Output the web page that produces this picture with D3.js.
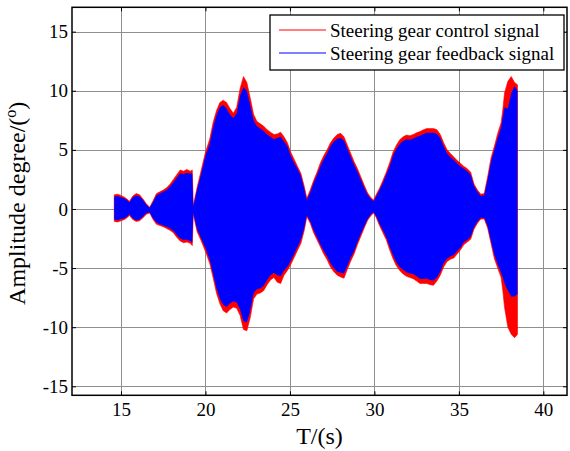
<!DOCTYPE html>
<html>
<head>
<meta charset="utf-8">
<script src="https://cdn.jsdelivr.net/npm/d3@7"></script>
<style>
  body { margin: 0; background: #fff; }
  svg { display: block; }
  text { font-family: "Liberation Serif", "Times New Roman", serif; fill: #000; }
</style>
</head>
<body>
<svg id="chart" width="570" height="451"></svg>
<script>
// Envelope of the two dense oscillating signals (degrees), sampled along time (s)
const time = [14.6, 14.8, 15.0, 15.2, 15.35, 15.5, 15.7, 15.9, 16.1, 16.3, 16.5, 16.7, 16.9, 17.1, 17.3, 17.5, 17.7, 17.9, 18.1, 18.3, 18.5, 18.7, 18.9, 19.1, 19.22,
  19.28, 19.5, 19.75, 20.0, 20.25, 20.45, 20.65, 20.85, 21.05, 21.25, 21.45, 21.65, 21.85, 22.05, 22.25, 22.45, 22.65, 22.85, 23.05, 23.25, 23.45, 23.65, 23.85, 24.05, 24.25, 24.45, 24.65, 24.85, 25.05, 25.25, 25.45, 25.65, 25.85,
  26.0, 26.2, 26.4, 26.6, 26.8, 27.0, 27.2, 27.4, 27.6, 27.8, 28.0, 28.2, 28.4, 28.6, 28.8, 29.0, 29.2, 29.4, 29.6, 29.8,
  29.95, 30.1, 30.3, 30.5, 30.7, 30.9, 31.1, 31.3, 31.5, 31.7, 31.9, 32.1, 32.3, 32.5, 32.7, 32.9, 33.1, 33.3, 33.5, 33.7, 33.9, 34.1, 34.3, 34.5, 34.7, 34.9, 35.1, 35.3, 35.5, 35.7, 35.9, 36.1, 36.3,
  36.5, 36.7, 36.9, 37.1, 37.3, 37.5, 37.6, 37.7, 37.9, 38.1, 38.3, 38.47];

const ctrlUpper = [1.2, 1.25, 1.15, 1.0, 0.85, 0.65, 1.1, 1.3, 1.2, 0.85, 0.45, 0.15, 0.7, 1.3, 1.45, 1.6, 1.8, 2.1, 2.5, 2.9, 3.3, 3.2, 3.35, 3.2, 3.3,
  0.3, 1.8, 3.3, 4.8, 5.9, 7.3, 8.3, 9.0, 9.2, 9.0, 8.5, 8.1, 8.6, 10.2, 11.2, 10.7, 9.4, 8.0, 7.4, 7.2, 7.0, 6.7, 6.5, 6.3, 6.35, 6.5, 6.1, 5.6, 4.8, 4.2, 3.6, 3.0, 1.9,
  0.9, 1.6, 2.4, 3.1, 3.9, 4.5, 5.0, 5.6, 6.0, 6.3, 6.4, 6.1, 5.4, 4.7, 4.0, 3.4, 2.7, 2.0, 1.35, 0.95,
  0.75, 1.2, 1.75, 2.4, 3.1, 3.9, 4.8, 5.4, 5.85, 6.1, 6.25, 6.2, 6.3, 6.45, 6.55, 6.7, 6.8, 6.8, 6.8, 6.7, 6.3, 5.6, 5.0, 4.7, 4.4, 4.1, 3.85, 3.6, 3.4, 3.1, 2.1, 1.6, 1.25,
  1.3, 2.7, 4.3, 5.3, 6.4, 7.3, 8.4, 9.8, 10.8, 11.2, 10.7, 10.5];

const ctrlLower = [-1.05, -1.1, -1.0, -0.9, -0.75, -0.55, -0.9, -1.05, -1.0, -0.75, -0.45, -0.35, -0.9, -1.3, -1.4, -1.5, -1.65, -1.8, -2.0, -2.4, -2.7, -2.85, -2.8, -2.9, -3.1,
  -0.45, -1.9, -2.7, -3.6, -4.6, -5.8, -7.1, -8.0, -8.6, -8.8, -8.5, -8.3, -8.4, -9.0, -10.2, -10.3, -9.2, -7.6, -7.2, -7.1, -6.9, -6.4, -6.0, -5.8, -6.2, -6.3, -5.6, -5.2, -4.7, -4.1, -3.5, -2.9, -1.8,
  -0.65, -1.2, -2.0, -2.6, -3.2, -3.8, -4.3, -4.9, -5.3, -5.6, -5.75, -5.85, -5.1, -4.4, -3.8, -3.0, -2.3, -1.6, -0.95, -0.55,
  -0.35, -0.7, -1.4, -2.0, -2.6, -3.45, -4.2, -4.8, -5.2, -5.5, -5.7, -5.8, -5.9, -6.1, -6.3, -6.3, -6.3, -6.4, -6.45, -6.1, -5.6, -4.9, -4.45, -4.25, -4.15, -3.8, -3.45, -3.0, -2.8, -2.55, -1.7, -1.2, -0.85,
  -0.85, -1.6, -2.9, -4.2, -5.0, -5.8, -6.9, -8.3, -10.0, -10.6, -10.9, -10.6];

const fbUpper = [1.05, 1.1, 1.0, 0.9, 0.75, 0.55, 1.0, 1.15, 1.05, 0.75, 0.35, 0.1, 0.6, 1.15, 1.3, 1.45, 1.6, 1.9, 2.25, 2.65, 3.0, 2.95, 3.05, 3.0, 3.0,
  0.2, 1.6, 3.0, 4.5, 5.5, 6.9, 7.9, 8.6, 8.8, 8.5, 8.0, 7.7, 8.1, 9.6, 10.3, 10.0, 8.8, 7.5, 7.0, 6.8, 6.6, 6.3, 6.1, 5.9, 6.0, 6.1, 5.7, 5.3, 4.5, 3.9, 3.4, 2.8, 1.7,
  0.75, 1.4, 2.2, 2.85, 3.6, 4.2, 4.7, 5.3, 5.7, 5.95, 6.0, 5.8, 5.1, 4.4, 3.75, 3.15, 2.5, 1.8, 1.2, 0.85,
  0.65, 1.05, 1.6, 2.2, 2.9, 3.6, 4.5, 5.1, 5.5, 5.75, 5.9, 5.85, 5.95, 6.1, 6.2, 6.35, 6.45, 6.45, 6.45, 6.35, 6.0, 5.3, 4.7, 4.4, 4.15, 3.85, 3.6, 3.4, 3.2, 2.9, 1.95, 1.45, 1.1,
  1.15, 2.5, 4.0, 5.0, 6.0, 6.9, 7.8, 8.6, 8.5, 9.8, 10.4, 10.0];

const fbLower = [-0.9, -0.95, -0.85, -0.8, -0.65, -0.45, -0.8, -0.95, -0.9, -0.65, -0.35, -0.3, -0.8, -1.15, -1.3, -1.4, -1.5, -1.65, -1.85, -2.2, -2.5, -2.6, -2.6, -2.7, -2.85,
  -0.35, -1.7, -2.5, -3.3, -4.3, -5.5, -6.7, -7.6, -8.1, -8.3, -8.0, -7.8, -7.9, -8.5, -9.5, -9.6, -8.6, -7.1, -6.8, -6.7, -6.5, -6.0, -5.6, -5.4, -5.6, -5.7, -5.2, -4.9, -4.4, -3.8, -3.2, -2.6, -1.6,
  -0.55, -1.05, -1.8, -2.4, -3.0, -3.55, -4.0, -4.6, -5.0, -5.3, -5.4, -5.45, -4.8, -4.1, -3.55, -2.8, -2.1, -1.45, -0.85, -0.45,
  -0.3, -0.6, -1.25, -1.8, -2.4, -3.2, -3.9, -4.5, -4.9, -5.15, -5.35, -5.45, -5.5, -5.7, -5.9, -5.9, -5.9, -6.0, -6.05, -5.8, -5.3, -4.6, -4.2, -4.0, -3.9, -3.55, -3.25, -2.8, -2.6, -2.35, -1.55, -1.05, -0.75,
  -0.75, -1.45, -2.7, -3.9, -4.7, -5.4, -5.8, -6.3, -6.9, -7.4, -7.4, -7.2];

const xTicks = [15, 20, 25, 30, 35, 40];
const yTicks = [-15, -10, -5, 0, 5, 10, 15];
const seriesNames = ["Steering gear control signal", "Steering gear feedback signal"];
const seriesColors = ["#ff0000", "#0000ff"];

const svg = d3.select("#chart");
svg.append("rect").attr("width", 570).attr("height", 451).attr("fill", "#fff");

const L = 72, R = 567, T = 7.3, B = 395.3;
const x = d3.scaleLinear().domain([12.1, 41.4]).range([L, R]);
const y = d3.scaleLinear().domain([-15.76, 17.06]).range([B, T]);

// grid
const grid = svg.append("g").attr("stroke", "#8f8f8f").attr("stroke-width", 1);
grid.selectAll(".gx").data(xTicks).join("line")
  .attr("x1", d => Math.round(x(d)) + 0.5).attr("x2", d => Math.round(x(d)) + 0.5)
  .attr("y1", T).attr("y2", B);
grid.selectAll(".gy").data(yTicks).join("line")
  .attr("y1", d => Math.round(y(d)) + 0.5).attr("y2", d => Math.round(y(d)) + 0.5)
  .attr("x1", L).attr("x2", R);

svg.append("clipPath").attr("id", "plotClip")
  .append("rect").attr("x", L).attr("y", T).attr("width", R - L).attr("height", B - T);

const idx = d3.range(time.length);
const band = (up, lo) => d3.area()
  .x(i => x(time[i]))
  .y0(i => y(lo[i]))
  .y1(i => y(up[i]));

const plot = svg.append("g").attr("clip-path", "url(#plotClip)");
plot.append("path").datum(idx).attr("d", band(ctrlUpper, ctrlLower))
  .attr("fill", seriesColors[0]).attr("stroke", seriesColors[0]).attr("stroke-width", 0.6);
plot.append("path").datum(idx).attr("d", band(fbUpper, fbLower))
  .attr("fill", seriesColors[1]);

// axes with inward ticks on all four sides
const fmt = d => String(d);
const axB = svg.append("g").attr("transform", `translate(0,${B})`)
  .call(d3.axisBottom(x).tickValues(xTicks).tickSize(-4).tickPadding(7).tickFormat(fmt));
const axT = svg.append("g").attr("transform", `translate(0,${T})`)
  .call(d3.axisTop(x).tickValues(xTicks).tickSize(-4).tickFormat(""));
const axL = svg.append("g").attr("transform", `translate(${L},0)`)
  .call(d3.axisLeft(y).tickValues(yTicks).tickSize(-4).tickPadding(4).tickFormat(fmt));
const axR = svg.append("g").attr("transform", `translate(${R},0)`)
  .call(d3.axisRight(y).tickValues(yTicks).tickSize(-4).tickFormat(""));
[axB, axT, axL, axR].forEach(g => {
  g.select(".domain").remove();
  g.selectAll(".tick line").attr("stroke", "#000").attr("stroke-width", 1);
  g.selectAll("text").attr("font-size", 19).attr("font-family", '"Liberation Serif", serif').attr("fill", "#000");
});

svg.append("rect").attr("x", L).attr("y", T).attr("width", R - L).attr("height", B - T)
  .attr("fill", "none").attr("stroke", "#000").attr("stroke-width", 1.5);

// axis titles
svg.append("text").attr("x", (L + R) / 2).attr("y", 444)
  .attr("text-anchor", "middle").attr("font-size", 24).text("T/(s)");

const yl = svg.append("text").attr("transform", `translate(25,${(T + B) / 2 + 2}) rotate(-90)`)
  .attr("text-anchor", "middle").attr("font-size", 24);
yl.append("tspan").text("Amplitude degree/(");
yl.append("tspan").attr("font-size", 16).attr("dy", -9).text("o");
yl.append("tspan").attr("dy", 9).text(")");

// legend
const leg = svg.append("g");
leg.append("rect").attr("x", 270).attr("y", 15).attr("width", 294).attr("height", 55)
  .attr("fill", "#fff").attr("stroke", "#000").attr("stroke-width", 1.3);
const rows = leg.selectAll(".row").data(d3.range(seriesNames.length)).join("g")
  .attr("transform", i => `translate(0,${30 + i * 23})`);
rows.append("line").attr("x1", 279).attr("x2", 326).attr("y1", 0).attr("y2", 0)
  .attr("stroke", i => seriesColors[i]).attr("stroke-width", 1);
rows.append("text").attr("x", 330).attr("y", 7).attr("font-size", 19).text(i => seriesNames[i]);
</script>
</body>
</html>
